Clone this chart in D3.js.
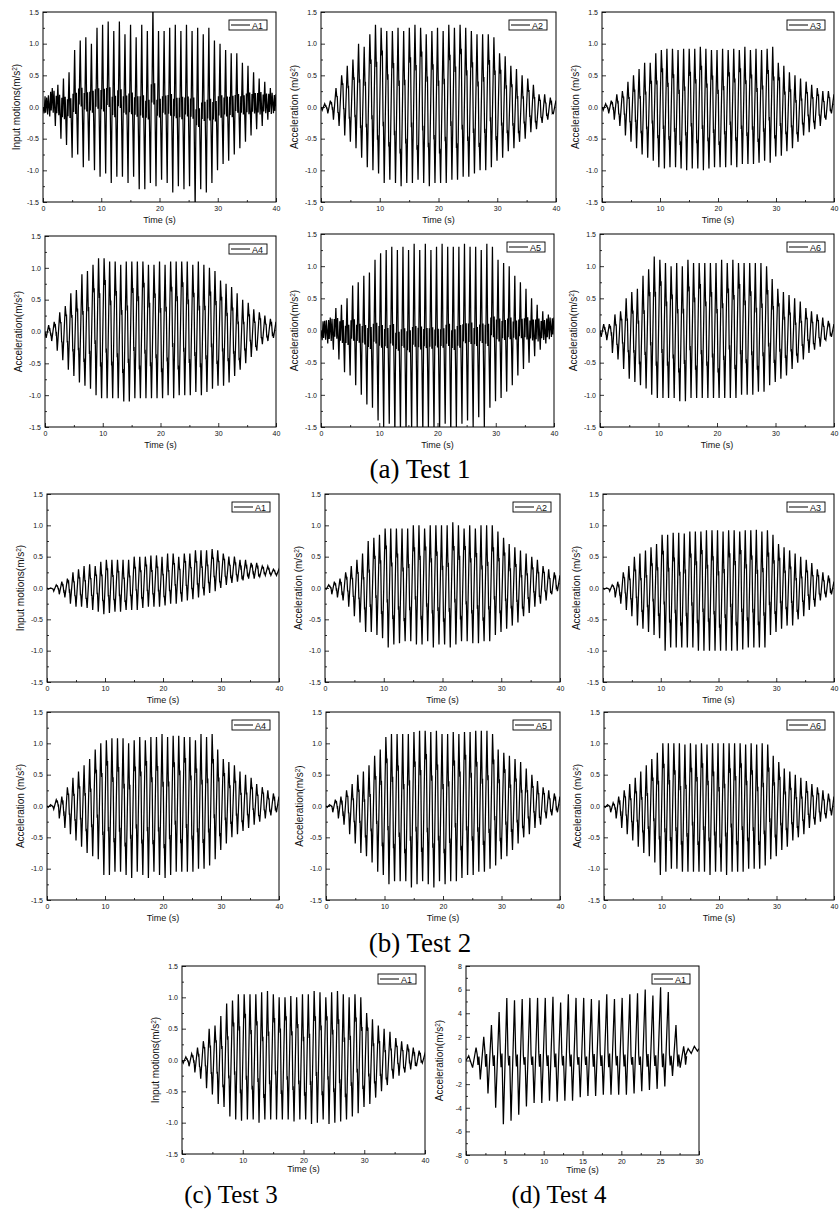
<!DOCTYPE html>
<html><head><meta charset="utf-8">
<script src="https://cdn.jsdelivr.net/npm/d3@7"></script>
<style>body{margin:0;background:#fff}svg{display:block}</style>
</head><body>
<svg id="c" width="839" height="1211"></svg>
<script>
// ---------- data ----------
const xTicks40 = [0, 10, 20, 30, 40];
const xMinor40 = [5, 15, 25, 35];
const yTicks15 = [-1.5, -1.0, -0.5, 0.0, 0.5, 1.0, 1.5];
const yMinor15 = [-1.25, -0.75, -0.25, 0.25, 0.75, 1.25];
const xTicks30 = [0, 5, 10, 15, 20, 25, 30];
const xMinor30 = [2.5, 7.5, 12.5, 17.5, 22.5, 27.5];
const yTicks8 = [-8, -6, -4, -2, 0, 2, 4, 6, 8];
const yMinor8 = [-7, -5, -3, -1, 1, 3, 5, 7];
const sectionTitles = ["(a) Test 1", "(b) Test 2", "(c) Test 3", "(d) Test 4"];
const legendNames = ["A1","A2","A3","A4","A5","A6","A1","A2","A3","A4","A5","A6","A1","A1"];

// per-cycle positive peaks and negative troughs (one cycle ≈ 0.96 s)
const t1a1Peaks = [0.15,0.3,0.35,0.45,0.55,0.9,1.05,1.1,1.0,1.25,1.3,1.35,1.2,1.35,1.15,1.3,1.1,1.3,1.2,1.6,1.2,1.2,1.25,1.3,1.2,1.3,1.2,1.25,1.15,1.25,1.05,1.0,0.9,0.85,0.85,0.7,0.65,0.55,0.45,0.4,0.3,0.2];
const t1a1Troughs = [-0.1,-0.15,-0.3,-0.5,-0.6,-0.8,-0.75,-0.95,-0.85,-1.0,-1.1,-1.05,-1.2,-1.1,-1.1,-1.2,-1.1,-1.3,-1.3,-1.2,-1.25,-1.15,-1.2,-1.35,-1.25,-1.3,-1.25,-1.6,-1.3,-1.35,-1.2,-1.0,-0.9,-0.85,-0.75,-0.65,-0.55,-0.45,-0.35,-0.3,-0.2,-0.1];
const t1a2Peaks = [0.05,0.1,0.3,0.5,0.65,0.75,1.0,0.95,1.15,1.3,1.25,1.2,1.2,1.25,1.2,1.25,1.3,1.25,1.15,1.2,1.25,1.2,1.3,1.25,1.3,1.25,1.2,1.15,1.15,1.15,1.1,0.85,0.8,0.65,0.6,0.5,0.45,0.35,0.2,0.2,0.15,0.1];
const t1a2Troughs = [-0.05,-0.1,-0.2,-0.3,-0.45,-0.55,-0.65,-0.8,-0.95,-1.0,-1.05,-1.2,-1.15,-1.2,-1.25,-1.2,-1.2,-1.15,-1.2,-1.25,-1.2,-1.2,-1.2,-1.15,-1.15,-1.1,-1.1,-1.05,-1.0,-1.0,-0.95,-0.85,-0.8,-0.7,-0.65,-0.55,-0.5,-0.4,-0.35,-0.25,-0.2,-0.1];
const t1a3Peaks = [0.05,0.1,0.2,0.25,0.4,0.5,0.6,0.7,0.7,0.85,0.9,0.92,0.92,0.9,0.92,0.92,0.92,0.95,0.92,0.9,0.9,0.92,0.9,0.92,0.9,0.95,0.9,0.92,0.9,0.92,0.95,0.7,0.65,0.55,0.5,0.45,0.4,0.35,0.3,0.25,0.25,0.2];
const t1a3Troughs = [-0.05,-0.1,-0.2,-0.3,-0.45,-0.55,-0.65,-0.75,-0.8,-0.85,-0.95,-0.97,-0.95,-0.95,-0.97,-1.0,-0.97,-0.97,-1.0,-0.97,-0.95,-0.95,-0.95,-0.92,-0.95,-0.9,-0.9,-0.9,-0.88,-0.85,-0.88,-0.78,-0.77,-0.7,-0.65,-0.55,-0.45,-0.4,-0.35,-0.3,-0.2,-0.1];
const t1a4Peaks = [0.1,0.15,0.3,0.4,0.6,0.65,0.9,0.95,1.05,1.15,1.15,1.1,1.1,1.05,1.1,1.1,1.1,1.1,1.05,1.05,1.1,1.05,1.1,1.1,1.1,1.1,1.05,1.1,1.05,1.0,0.95,0.8,0.75,0.7,0.6,0.5,0.45,0.35,0.3,0.25,0.2,0.15];
const t1a4Troughs = [-0.1,-0.15,-0.3,-0.45,-0.6,-0.7,-0.8,-0.85,-0.9,-1.0,-1.05,-1.05,-1.05,-1.05,-1.1,-1.1,-1.05,-1.05,-1.05,-1.05,-1.05,-1.05,-1.0,-1.05,-1.0,-1.0,-1.0,-0.95,-1.0,-0.95,-0.9,-0.85,-0.85,-0.8,-0.7,-0.6,-0.5,-0.4,-0.3,-0.2,-0.15,-0.1];
const t1a5Peaks = [0.15,0.2,0.35,0.4,0.5,0.7,0.75,0.85,0.9,1.1,1.2,1.25,1.3,1.25,1.3,1.25,1.35,1.25,1.35,1.25,1.3,1.35,1.3,1.3,1.3,1.35,1.3,1.3,1.25,1.35,1.3,1.1,1.05,1.0,0.85,0.75,0.65,0.5,0.4,0.3,0.25,0.2];
const t1a5Troughs = [-0.15,-0.2,-0.3,-0.45,-0.65,-0.7,-0.85,-1.0,-1.15,-1.2,-1.4,-1.5,-1.45,-1.6,-1.55,-1.6,-1.55,-1.5,-1.6,-1.5,-1.55,-1.6,-1.45,-1.6,-1.5,-1.45,-1.4,-1.5,-1.35,-1.5,-1.2,-1.1,-1.05,-0.95,-0.85,-0.7,-0.6,-0.5,-0.4,-0.3,-0.2,-0.1];
const t1a6Peaks = [0.1,0.1,0.25,0.3,0.5,0.6,0.65,0.85,0.95,1.15,1.1,1.05,1.0,1.05,1.0,1.1,1.05,1.05,1.05,1.05,1.05,1.1,1.05,1.1,1.05,1.05,1.05,1.05,1.05,1.0,0.8,0.65,0.6,0.55,0.5,0.45,0.35,0.3,0.25,0.2,0.15,0.1];
const t1a6Troughs = [-0.1,-0.15,-0.35,-0.45,-0.6,-0.75,-0.8,-0.85,-0.9,-1.0,-1.05,-1.05,-1.05,-1.05,-1.1,-1.1,-1.05,-1.05,-1.05,-1.05,-1.05,-1.05,-1.05,-1.05,-1.05,-1.0,-1.0,-1.0,-0.95,-0.95,-0.85,-0.8,-0.75,-0.7,-0.6,-0.5,-0.45,-0.35,-0.3,-0.25,-0.15,-0.1];

const t2a1Peaks = [0.0,0.05,0.1,0.15,0.25,0.3,0.35,0.38,0.35,0.42,0.45,0.45,0.45,0.45,0.45,0.5,0.5,0.5,0.52,0.52,0.5,0.55,0.55,0.5,0.55,0.55,0.6,0.6,0.6,0.62,0.6,0.55,0.5,0.5,0.45,0.45,0.4,0.4,0.35,0.35,0.3,0.3];
const t2a1Troughs = [-0.02,-0.05,-0.1,-0.15,-0.25,-0.3,-0.3,-0.32,-0.35,-0.38,-0.42,-0.4,-0.38,-0.38,-0.35,-0.35,-0.35,-0.32,-0.3,-0.3,-0.3,-0.28,-0.25,-0.25,-0.22,-0.2,-0.18,-0.15,-0.12,-0.08,-0.05,0.0,0.05,0.08,0.1,0.12,0.15,0.15,0.18,0.2,0.2,0.2];
const t2a2Peaks = [0.05,0.1,0.15,0.25,0.35,0.45,0.55,0.75,0.8,0.85,0.95,0.95,0.95,0.95,0.95,1.0,1.0,0.95,1.0,1.0,1.0,1.0,1.05,1.0,0.95,1.0,0.95,1.0,1.0,1.0,0.9,0.8,0.7,0.65,0.6,0.55,0.5,0.45,0.35,0.3,0.25,0.2];
const t2a2Troughs = [-0.02,-0.1,-0.15,-0.2,-0.3,-0.45,-0.55,-0.7,-0.7,-0.75,-0.8,-0.95,-0.9,-0.88,-0.85,-0.85,-0.9,-0.9,-0.85,-0.95,-0.9,-0.9,-0.95,-0.9,-0.85,-0.85,-0.88,-0.88,-0.85,-0.85,-0.75,-0.7,-0.65,-0.6,-0.55,-0.45,-0.4,-0.3,-0.25,-0.2,-0.1,-0.05];
const t2a3Peaks = [0.0,0.05,0.1,0.25,0.35,0.5,0.55,0.6,0.65,0.7,0.85,0.85,0.88,0.88,0.87,0.9,0.9,0.9,0.92,0.92,0.92,0.9,0.92,0.92,0.9,0.92,0.92,0.93,0.9,0.92,0.85,0.7,0.65,0.6,0.55,0.5,0.45,0.4,0.3,0.25,0.2,0.1];
const t2a3Troughs = [-0.02,-0.05,-0.15,-0.25,-0.35,-0.45,-0.6,-0.65,-0.7,-0.75,-0.8,-1.0,-0.95,-0.95,-0.95,-0.95,-0.95,-1.0,-1.0,-1.0,-1.0,-1.0,-1.0,-1.0,-1.0,-0.98,-0.95,-0.95,-0.95,-0.95,-0.75,-0.7,-0.65,-0.6,-0.6,-0.5,-0.45,-0.35,-0.3,-0.2,-0.15,-0.1];
const t2a4Peaks = [0.02,0.1,0.15,0.3,0.45,0.55,0.65,0.75,0.9,1.0,1.05,1.08,1.08,1.08,1.0,1.05,1.1,1.05,1.1,1.1,1.15,1.1,1.12,1.12,1.1,1.1,1.05,1.15,1.1,1.15,0.9,0.75,0.7,0.65,0.55,0.5,0.45,0.35,0.3,0.25,0.2,0.15];
const t2a4Troughs = [-0.02,-0.05,-0.2,-0.35,-0.45,-0.55,-0.65,-0.75,-0.8,-0.85,-1.1,-1.1,-1.05,-1.05,-1.1,-1.15,-1.05,-1.1,-1.15,-1.05,-1.1,-1.15,-1.1,-1.05,-1.05,-1.05,-1.05,-1.0,-1.0,-0.95,-0.85,-0.7,-0.6,-0.5,-0.45,-0.4,-0.35,-0.3,-0.25,-0.2,-0.15,-0.1];
const t2a5Peaks = [0.02,0.1,0.15,0.25,0.35,0.5,0.55,0.65,0.8,0.9,1.1,1.15,1.15,1.15,1.15,1.18,1.2,1.2,1.18,1.2,1.15,1.15,1.18,1.15,1.18,1.18,1.2,1.2,1.2,1.15,0.9,0.85,0.8,0.75,0.7,0.6,0.5,0.4,0.3,0.25,0.2,0.15];
const t2a5Troughs = [-0.02,-0.1,-0.2,-0.3,-0.45,-0.6,-0.75,-0.8,-0.9,-1.05,-1.1,-1.25,-1.2,-1.2,-1.2,-1.3,-1.25,-1.2,-1.25,-1.3,-1.2,-1.25,-1.2,-1.2,-1.15,-1.1,-1.1,-1.05,-1.05,-1.0,-0.95,-0.85,-0.8,-0.7,-0.6,-0.5,-0.45,-0.35,-0.3,-0.2,-0.15,-0.1];
const t2a6Peaks = [0.02,0.05,0.15,0.25,0.35,0.45,0.55,0.65,0.75,0.85,1.0,1.0,1.0,1.0,0.98,1.0,0.98,1.0,0.98,1.0,1.0,1.0,1.0,1.0,1.0,0.98,1.0,0.98,1.0,0.98,0.8,0.7,0.6,0.55,0.5,0.45,0.4,0.35,0.3,0.25,0.2,0.15];
const t2a6Troughs = [-0.02,-0.1,-0.2,-0.35,-0.45,-0.55,-0.65,-0.75,-0.8,-0.9,-1.1,-1.05,-1.0,-1.0,-1.05,-1.05,-1.05,-1.05,-1.05,-1.1,-1.05,-1.05,-1.1,-1.05,-1.05,-1.05,-1.0,-1.0,-1.0,-0.95,-0.85,-0.8,-0.7,-0.65,-0.55,-0.5,-0.45,-0.35,-0.3,-0.25,-0.2,-0.15];

const t3a1Peaks = [0.05,0.1,0.2,0.3,0.5,0.55,0.7,0.9,0.95,1.05,1.05,1.05,1.05,1.08,1.1,1.05,1.0,1.0,1.02,1.0,1.05,1.05,1.1,1.08,1.0,1.08,1.1,1.05,1.0,1.05,1.0,0.75,0.65,0.55,0.5,0.45,0.35,0.3,0.25,0.2,0.15,0.1];
const t3a1Troughs = [-0.05,-0.1,-0.2,-0.3,-0.45,-0.55,-0.7,-0.75,-0.9,-0.95,-0.97,-0.95,-0.95,-1.0,-0.95,-0.95,-0.95,-0.95,-0.95,-0.98,-0.95,-0.95,-1.02,-1.0,-0.95,-1.02,-1.0,-0.98,-0.95,-0.9,-0.85,-0.75,-0.7,-0.6,-0.5,-0.4,-0.3,-0.25,-0.2,-0.15,-0.1,-0.05];

const t4a1Peaks = [1.1,2.0,3.0,4.1,5.3,5.1,5.2,5.3,5.3,5.3,5.4,4.9,5.6,5.3,5.3,5.2,5.1,5.6,5.2,5.3,5.6,5.7,6.0,5.5,6.2,5.8,3.0,1.2];
const t4a1Troughs = [-0.6,-1.6,-2.8,-4.0,-5.4,-5.1,-4.6,-3.9,-3.6,-3.6,-3.4,-3.5,-3.4,-3.4,-3.1,-3.0,-3.0,-2.9,-2.9,-2.9,-2.9,-2.8,-2.6,-2.5,-2.4,-2.2,-1.3,-0.6];
const t4a1HeadT = [0, 0.35], t4a1HeadV = [0, 0.4];
const t4a1TailT = [28.2, 28.6, 29.0, 29.4, 29.8, 30], t4a1TailV = [0.3, 1.0, 0.6, 1.2, 0.8, 1.0];

// cycle timing
const cycleStart = 0.2, cyclePeriod = 0.96;
const t4Start = 0.85, t4Period = 0.99;

// ---------- layout ----------
const accel = "Acceleration", accelS = "Acceleration ", inputM = "Input motions";
const panels = [
  {pk:t1a1Peaks, tr:t1a1Troughs, kind:"dense", lab:inputM, x0:43, x1:276, y0:12, y1:202},
  {pk:t1a2Peaks, tr:t1a2Troughs, kind:"norm", lab:accelS, x0:321, x1:556, y0:12, y1:202},
  {pk:t1a3Peaks, tr:t1a3Troughs, kind:"norm", lab:accelS, x0:602, x1:834, y0:12, y1:202},
  {pk:t1a4Peaks, tr:t1a4Troughs, kind:"norm", lab:accel, x0:45, x1:276, y0:236, y1:427},
  {pk:t1a5Peaks, tr:t1a5Troughs, kind:"dense", lab:accel, x0:321, x1:554, y0:234, y1:427},
  {pk:t1a6Peaks, tr:t1a6Troughs, kind:"norm", lab:accel, x0:600, x1:834, y0:234, y1:427},
  {pk:t2a1Peaks, tr:t2a1Troughs, kind:"norm", lab:inputM, x0:47, x1:279, y0:494, y1:682},
  {pk:t2a2Peaks, tr:t2a2Troughs, kind:"norm", lab:accelS, x0:325, x1:560, y0:494, y1:682},
  {pk:t2a3Peaks, tr:t2a3Troughs, kind:"norm", lab:accelS, x0:603, x1:834, y0:494, y1:682},
  {pk:t2a4Peaks, tr:t2a4Troughs, kind:"norm", lab:accelS, x0:47, x1:279, y0:712, y1:900},
  {pk:t2a5Peaks, tr:t2a5Troughs, kind:"norm", lab:accel, x0:326, x1:560, y0:712, y1:900},
  {pk:t2a6Peaks, tr:t2a6Troughs, kind:"norm", lab:accelS, x0:604, x1:834, y0:712, y1:900},
  {pk:t3a1Peaks, tr:t3a1Troughs, kind:"norm", lab:inputM, x0:182, x1:425, y0:966, y1:1154},
  {pk:t4a1Peaks, tr:t4a1Troughs, kind:"t4", lab:accel, x0:466, x1:699, y0:966, y1:1155}
];
const titlePos = [[420,478],[420,952],[231,1203],[559,1203]];
// inner-kink levels cycle through a few fractions so the inner band looks irregular (style only)
const kinkUp = [0.30, 0.55, 0.42, 0.62, 0.36, 0.50, 0.25];
const kinkDn = [0.45, 0.28, 0.58, 0.35, 0.52, 0.40, 0.62];

function buildSeries(p){
  const pts = [];
  if (p.kind === "t4"){
    t4a1HeadT.forEach((t,i)=>pts.push([t, t4a1HeadV[i]]));
    p.pk.forEach((hi,k)=>{
      const t = t4Start + k*t4Period, P = t4Period, lo = p.tr[k];
      const a = kinkUp[k%7];
      pts.push([t,lo],[t+0.45*P,hi],[t+0.6*P,0.2+a],[t+0.7*P,-0.2-a*0.6],[t+0.82*P,0.1+a*0.8]);
    });
    t4a1TailT.forEach((t,i)=>pts.push([t, t4a1TailV[i]]));
    return pts;
  }
  pts.push([0, 0]);
  const P = cyclePeriod;
  p.pk.forEach((hi,k)=>{
    const t = cycleStart + k*P, lo = p.tr[k], c = (hi+lo)/2;
    const fu = kinkUp[k%7], fd = kinkDn[k%7];
    if (p.kind === "dense"){
      const w = 0.12 + 0.08*fu;
      pts.push([t,lo],[t+0.16*P,c+w],[t+0.26*P,c-w*0.8],[t+0.45*P,hi],
               [t+0.62*P,c-w],[t+0.76*P,c+w*1.1]);
    } else {
      pts.push([t,lo],[t+0.45*P,hi],[t+0.6*P,c+fu*(hi-c)],
               [t+0.67*P,c+(fu+0.07)*(hi-c)],[t+0.8*P,c+fd*(lo-c)],[t+0.86*P,c+(fd-0.06)*(lo-c)]);
    }
  });
  const last = p.pk.length-1;
  pts.push([40, (p.pk[last]+p.tr[last])/2]);
  return pts;
}

const svg = d3.select("#c");
const font = "'Liberation Sans', Arial, sans-serif";

panels.forEach((p,i)=>{
  const isT4 = p.kind === "t4";
  const xMax = isT4 ? 30 : 40;
  const yDom = isT4 ? [-8, 8] : [-1.5, 1.5];
  const x = d3.scaleLinear().domain([0, xMax]).range([p.x0, p.x1]);
  const y = d3.scaleLinear().domain(yDom).range([p.y1, p.y0]);
  const g = svg.append("g");

  g.append("clipPath").attr("id","cp"+i).append("rect")
    .attr("x",p.x0).attr("y",p.y0).attr("width",p.x1-p.x0).attr("height",p.y1-p.y0);

  const line = d3.line().x(d=>x(d[0])).y(d=>y(d[1]));
  g.append("path").attr("clip-path",`url(#cp${i})`)
    .attr("d", line(buildSeries(p)))
    .attr("fill","none").attr("stroke","#000").attr("stroke-width",1.25).attr("stroke-linejoin","miter");

  g.append("rect").attr("x",p.x0).attr("y",p.y0).attr("width",p.x1-p.x0).attr("height",p.y1-p.y0)
    .attr("fill","none").attr("stroke","#000").attr("stroke-width",1);

  const fmtY = isT4 ? (v=>String(v)) : (v=>v.toFixed(1));
  const xa = g.append("g").attr("transform",`translate(0,${p.y1})`)
    .call(d3.axisBottom(x).tickValues(isT4?xTicks30:xTicks40).tickSizeInner(-4).tickSizeOuter(0).tickPadding(4).tickFormat(v=>String(v)));
  const xm = g.append("g").attr("transform",`translate(0,${p.y1})`)
    .call(d3.axisBottom(x).tickValues(isT4?xMinor30:xMinor40).tickSizeInner(-2).tickSizeOuter(0).tickFormat(""));
  const ya = g.append("g").attr("transform",`translate(${p.x0},0)`)
    .call(d3.axisLeft(y).tickValues(isT4?yTicks8:yTicks15).tickSizeInner(-4).tickSizeOuter(0).tickPadding(4).tickFormat(fmtY));
  const ym = g.append("g").attr("transform",`translate(${p.x0},0)`)
    .call(d3.axisLeft(y).tickValues(isT4?yMinor8:yMinor15).tickSizeInner(-2).tickSizeOuter(0).tickFormat(""));
  [xa,xm,ya,ym].forEach(a=>{
    a.select(".domain").remove();
    a.selectAll("line").attr("stroke","#000").attr("stroke-width",0.8);
    a.selectAll("text").attr("font-family",font).attr("font-size",7).attr("fill","#111");
  });

  // axis titles
  const tOff = i >= 12 ? 18 : 21;
  g.append("text").attr("x",(p.x0+p.x1)/2).attr("y",p.y1+tOff)
    .attr("text-anchor","middle").attr("font-family",font).attr("font-size",9).attr("fill","#111")
    .text("Time (s)");
  const yl = g.append("text").attr("transform",`translate(${p.x0-23},${(p.y0+p.y1)/2}) rotate(-90)`)
    .attr("text-anchor","middle").attr("font-family",font).attr("font-size",10).attr("fill","#111");
  yl.append("tspan").text(p.lab+"(m/s");
  yl.append("tspan").attr("font-size",6.5).attr("dy",-3.5).text("2");
  yl.append("tspan").attr("dy",3.5).text(")");

  // legend
  const lx = p.x1 - 9 - 38, ly = p.y0 + 8;
  g.append("rect").attr("x",lx).attr("y",ly).attr("width",38).attr("height",10)
    .attr("fill","#fff").attr("stroke","#000").attr("stroke-width",0.9);
  g.append("line").attr("x1",lx+2).attr("x2",lx+21).attr("y1",ly+5).attr("y2",ly+5)
    .attr("stroke","#000").attr("stroke-width",1);
  g.append("text").attr("x",lx+23).attr("y",ly+8.5).attr("font-family",font).attr("font-size",9)
    .attr("fill","#111").text(legendNames[i]);
});

sectionTitles.forEach((t,i)=>{
  svg.append("text").attr("x",titlePos[i][0]).attr("y",titlePos[i][1])
    .attr("text-anchor","middle").attr("font-family","'Liberation Serif','Times New Roman',serif")
    .attr("font-size", i >= 2 ? 25 : 27).attr("fill","#000").text(t);
});
</script>
</body></html>
